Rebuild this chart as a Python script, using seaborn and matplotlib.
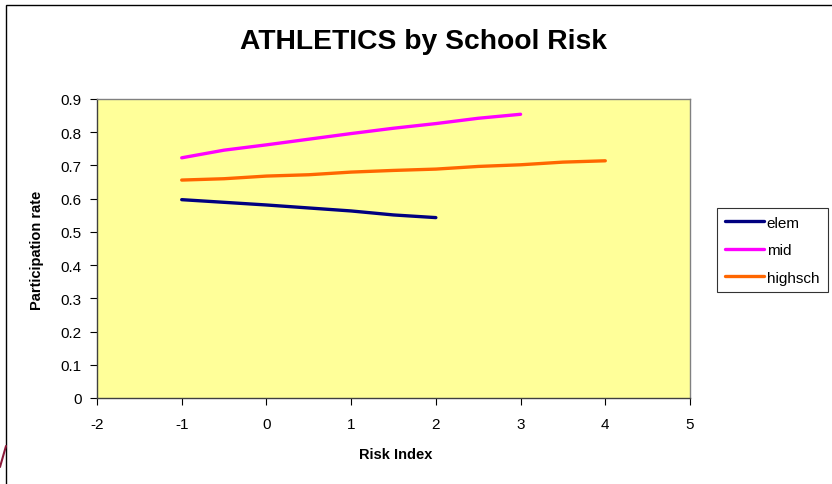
import numpy as np
import pandas as pd
import matplotlib
matplotlib.use("Agg")
import matplotlib.pyplot as plt
import seaborn as sns
from matplotlib.patches import Rectangle

# ---- data ----
elem_x = [-1, -0.5, 0, 0.5, 1, 1.5, 2]
elem_y = [0.597, 0.589, 0.581, 0.572, 0.563, 0.551, 0.543]
mid_x = [-1, -0.5, 0, 0.5, 1, 1.5, 2, 2.5, 3]
mid_y = [0.723, 0.746, 0.762, 0.779, 0.796, 0.812, 0.826, 0.842, 0.854]
hs_x = [-1, -0.5, 0, 0.5, 1, 1.5, 2, 2.5, 3, 3.5, 4]
hs_y = [0.656, 0.660, 0.668, 0.672, 0.680, 0.685, 0.689, 0.697, 0.702, 0.710, 0.714]
series_names = ["elem", "mid", "highsch"]
colors = ["#000080", "#FF00FF", "#FF6600"]
x_ticks = [-2, -1, 0, 1, 2, 3, 4, 5]
y_ticks = [0, 0.1, 0.2, 0.3, 0.4, 0.5, 0.6, 0.7, 0.8, 0.9]

df = pd.concat([
    pd.DataFrame({"x": elem_x, "y": elem_y, "series": "elem"}),
    pd.DataFrame({"x": mid_x, "y": mid_y, "series": "mid"}),
    pd.DataFrame({"x": hs_x, "y": hs_y, "series": "highsch"}),
])

sns.set_style("white")
plt.rcParams["font.family"] = ["Liberation Sans", "DejaVu Sans"]
plt.rcParams["text.color"] = "black"
plt.rcParams["axes.labelcolor"] = "black"
plt.rcParams["xtick.color"] = "black"
plt.rcParams["ytick.color"] = "black"

W, H = 832, 485
fig = plt.figure(figsize=(W / 100, H / 100), dpi=100)
fig.patch.set_facecolor("white")
ax = fig.add_axes([97 / W, 1 - 399 / H, (690 - 97) / W, (399 - 100) / H])
ax.set_facecolor("#FFFF99")

sns.lineplot(data=df, x="x", y="y", hue="series", hue_order=series_names,
             palette=colors, linewidth=2.4, ax=ax, sort=False,
             estimator=None, legend=True)

ax.set_xlim(-2, 5)
ax.set_ylim(0, 0.9)
ax.set_xticks(x_ticks)
ax.set_xticklabels([str(t) for t in x_ticks])
ax.set_yticks(y_ticks)
ax.set_yticklabels(["0"] + [f"{t:.1f}" for t in y_ticks[1:]])
ax.tick_params(axis="both", direction="out", length=5, width=0.8, color="black",
               labelsize=11, left=True, bottom=True, labelcolor="black")
ax.tick_params(axis="x", pad=9)
ax.tick_params(axis="y", pad=6)
for s in ["top", "right"]:
    ax.spines[s].set_color("#808080")
    ax.spines[s].set_linewidth(1.0)
for s in ["left", "bottom"]:
    ax.spines[s].set_color("#404040")
    ax.spines[s].set_linewidth(1.0)

ax.set_xlabel("")
ax.set_ylabel("")
fig.text(396 / W, 1 - 455 / H, "Risk Index", fontsize=10.5, fontweight="bold",
         ha="center", va="center", color="black")
fig.text(37 / W, 1 - 250 / H, "Participation rate", fontsize=10.5, fontweight="bold",
         ha="center", va="center", rotation=90, color="black")
fig.text(424 / W, 1 - 42 / H, "ATHLETICS by School Risk", fontsize=20.3,
         fontweight="bold", ha="center", va="center", color="black")

handles, labels = ax.get_legend_handles_labels()
leg = ax.legend(handles, labels, loc="upper left",
                bbox_to_anchor=(717 / W, 1 - 291 / H, (828 - 717) / W, (291 - 209) / H),
                bbox_transform=fig.transFigure, mode="expand",
                frameon=True, fancybox=False, fontsize=11, handlelength=2.6,
                handletextpad=0.15, borderaxespad=0, borderpad=0.5, labelspacing=0.88)
leg.get_frame().set_edgecolor("black")
leg.get_frame().set_linewidth(0.8)
for l in leg.get_lines():
    l.set_linewidth(2.4)

# chart outer border
fig.add_artist(Rectangle((6 / W, -0.05), 1.1, 1 - 6 / H + 0.05, transform=fig.transFigure,
                         fill=False, edgecolor="black", linewidth=1.0))
# slide artifact curve at bottom-left
fig.add_artist(plt.Line2D([0 / W, 6 / W], [1 - 468 / H, 1 - 447 / H],
                          transform=fig.transFigure, color="#8B1A3A", linewidth=1.5))

fig.savefig("out.png", dpi=100)
